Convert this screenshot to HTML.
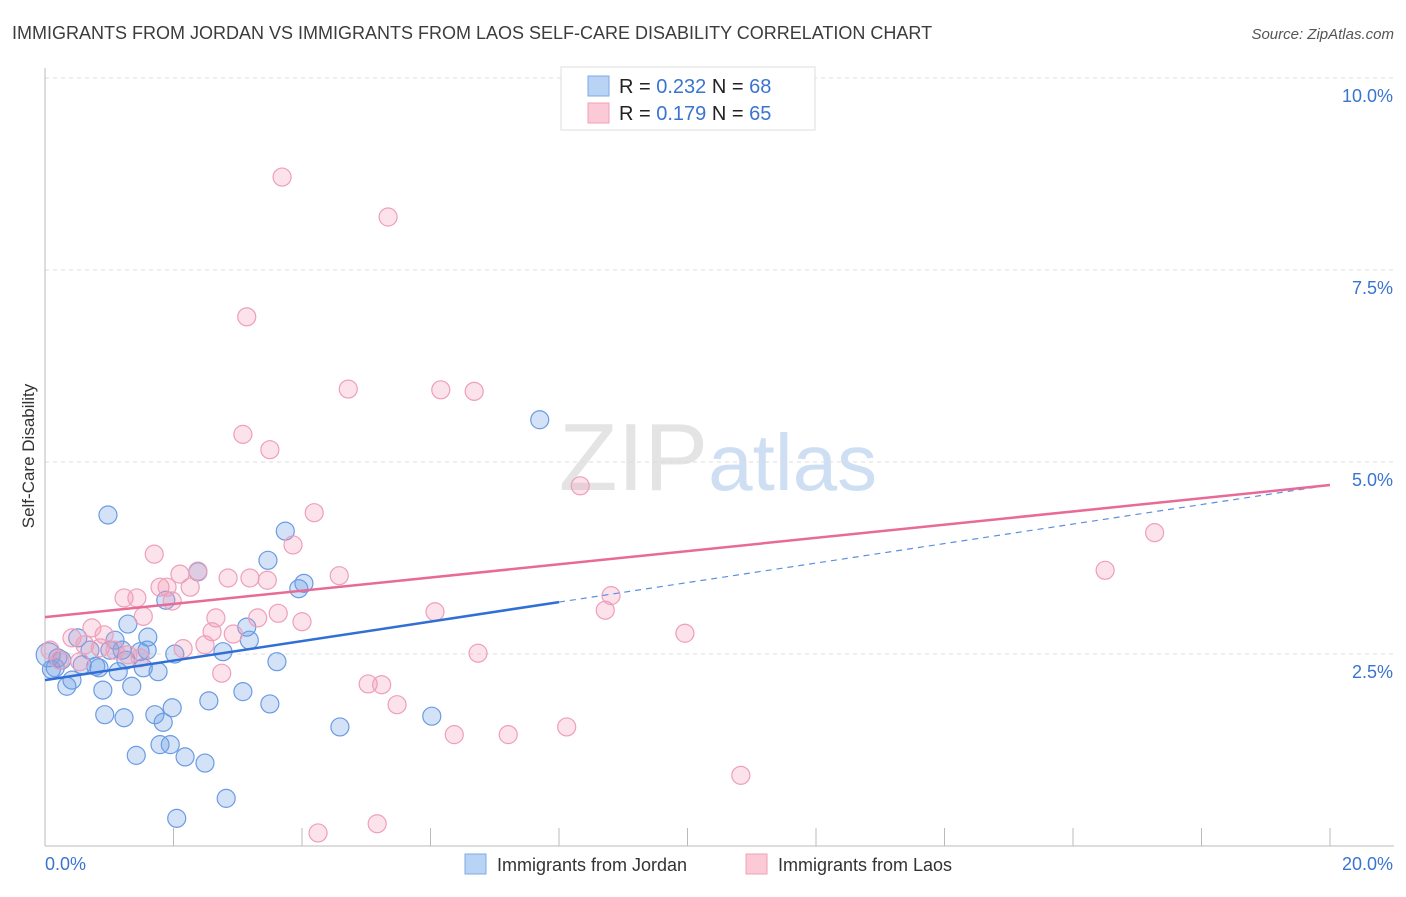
<!DOCTYPE html>
<html><head><meta charset="utf-8"><style>
body{margin:0;background:#fff;font-family:"Liberation Sans",sans-serif;}
svg text{font-family:"Liberation Sans",sans-serif;}
</style></head><body>
<svg id="chart" width="1406" height="892" xmlns="http://www.w3.org/2000/svg">
<text x="12" y="39" font-size="18" fill="#3c3c3c">IMMIGRANTS FROM JORDAN VS IMMIGRANTS FROM LAOS SELF-CARE DISABILITY CORRELATION CHART</text>
<text x="1394" y="39" font-size="15" fill="#555" text-anchor="end" font-style="italic">Source: ZipAtlas.com</text>
<text transform="translate(34,456) rotate(-90)" font-size="17" fill="#333" text-anchor="middle">Self-Care Disability</text>
<text x="718" y="490" font-size="96" text-anchor="middle" fill="#e4e4e4" font-family="Liberation Serif"><tspan>ZIP</tspan><tspan fill="#cfdff3" font-family="Liberation Sans" font-size="80">atlas</tspan></text>
<g id="grid"></g><g id="axes"></g><g id="pts"></g><g id="lines"></g>
<g>
<rect x="561" y="67" width="254" height="63" fill="#fff" stroke="#ddd"/>
<rect x="588" y="76" width="21" height="20" fill="#b9d3f5" stroke="#7fa8e6"/>
<rect x="588" y="103" width="21" height="20" fill="#fcc9d7" stroke="#f0a0b8"/>
<text x="619" y="93" font-size="20" fill="#222">R = <tspan fill="#3a74d0">0.232</tspan>   N = <tspan fill="#3a74d0">68</tspan></text>
<text x="619" y="120" font-size="20" fill="#222">R =  <tspan fill="#3a74d0">0.179</tspan>   N = <tspan fill="#3a74d0">65</tspan></text>
</g>
<g>
<rect x="465" y="854" width="21" height="20" fill="#b9d3f5" stroke="#7fa8e6"/>
<text x="497" y="871" font-size="18" fill="#333">Immigrants from Jordan</text>
<rect x="746" y="854" width="21" height="20" fill="#fcc9d7" stroke="#f0a0b8"/>
<text x="778" y="871" font-size="18" fill="#333">Immigrants from Laos</text>
</g>
</svg>
<script>
const blueX=[0.98,0.05,0.16,0.26,0.34,0.42,0.51,0.58,0.70,0.79,0.84,0.90,0.93,1.01,1.09,1.14,1.20,1.23,1.26,1.29,1.35,1.42,1.48,1.53,1.59,1.60,1.71,1.76,1.79,1.84,1.88,1.95,1.98,2.02,2.18,2.38,2.49,2.55,2.77,2.82,3.08,3.14,3.18,3.47,3.50,3.61,3.74,3.95,4.03,4.59,6.02,7.70,2.05,0.10,0.20];
const blueY=[4.31,2.49,2.32,2.42,2.08,2.16,2.71,2.36,2.55,2.34,2.32,2.03,1.71,2.55,2.68,2.27,2.55,1.67,2.42,2.89,2.08,1.18,2.53,2.32,2.55,2.72,1.71,2.27,1.32,1.61,3.20,1.32,1.80,2.50,1.16,3.57,1.08,1.89,2.53,0.62,2.01,2.85,2.68,3.72,1.85,2.40,4.10,3.35,3.42,1.55,1.69,5.55,0.36,2.30,2.45];
const pinkX=[11.59,3.69,5.34,3.14,4.72,6.16,6.68,3.08,3.50,8.33,4.19,17.27,16.50,1.70,3.86,2.38,2.10,1.79,1.90,2.26,2.85,3.19,3.46,4.58,1.23,1.43,1.98,1.53,2.66,3.31,3.63,4.00,6.07,8.72,8.81,2.60,2.93,0.92,0.73,0.42,0.62,0.86,1.09,1.29,1.48,2.15,2.49,9.96,6.74,2.75,5.03,5.24,5.48,6.37,7.21,8.12,10.83,4.25,5.17,0.23,0.54,0.08];
const pinkY=[9.52,8.71,8.19,6.89,5.95,5.94,5.92,5.36,5.16,4.69,4.34,4.08,3.59,3.80,3.92,3.58,3.54,3.37,3.37,3.37,3.49,3.49,3.46,3.52,3.23,3.23,3.19,2.99,2.97,2.97,3.03,2.92,3.05,3.07,3.26,2.79,2.76,2.75,2.84,2.71,2.62,2.58,2.55,2.49,2.45,2.57,2.62,2.77,2.51,2.25,2.11,2.10,1.84,1.45,1.45,1.55,0.92,0.17,0.29,2.42,2.40,2.55];
const blueLine=[2.16,4.70];
const pinkLine=[2.98,4.70];
const yTicks=[2.5,5.0,7.5,10.0];
const xTickVals=[2,4,6,8,10,12,14,16,18,20];
const NS="http://www.w3.org/2000/svg";
const sx=v=>45+v/20*1285;
const sy=v=>846-v/10*768;
function mk(tag,attrs,parent){const e=document.createElementNS(NS,tag);for(const k in attrs)e.setAttribute(k,attrs[k]);parent.appendChild(e);return e;}
const grid=document.getElementById('grid'),axes=document.getElementById('axes'),pts=document.getElementById('pts'),lines=document.getElementById('lines');
yTicks.forEach(t=>{
 const l=mk('line',{x1:45,x2:1394,y1:sy(t),y2:sy(t),stroke:'#ddd','stroke-dasharray':'4,4'},grid);
 
 
 const tx=mk('text',{x:1393,y:sy(t)+24,'font-size':18,fill:'#3a74d0','text-anchor':'end'},grid);
 tx.textContent=t.toFixed(1)+'%';
 
 
});
const ya=mk('line',{x1:45,x2:45,y1:68,y2:846,stroke:'#bbb'},axes);


const xa=mk('line',{x1:45,x2:1394,y1:846,y2:846,stroke:'#bbb'},axes);


xTickVals.forEach(t=>{
 const l=mk('line',{x1:sx(t),x2:sx(t),y1:828,y2:846,stroke:'#bbb'},axes);
 
 
});
const xl0=mk('text',{x:45,y:870,'font-size':18,fill:'#3a74d0'},axes);xl0.textContent='0.0%';


const xl1=mk('text',{x:1393,y:870,'font-size':18,fill:'#3a74d0','text-anchor':'end'},axes);xl1.textContent='20.0%';


blueX.forEach((x,i)=>{
 const c=mk('circle',{cx:sx(x),cy:sy(blueY[i]),r:i==1?12:9,fill:'rgba(110,160,230,0.3)',stroke:'#6b9be3','stroke-width':1.2},pts);
 
 
});
pinkX.forEach((x,i)=>{
 const c=mk('circle',{cx:sx(x),cy:sy(pinkY[i]),r:9,fill:'rgba(245,150,180,0.28)',stroke:'#ee9fb9','stroke-width':1.2},pts);
 
 
});
const bAt=x=>blueLine[0]+(blueLine[1]-blueLine[0])*x/20;
const bl=mk('line',{x1:sx(0),y1:sy(bAt(0)),x2:sx(8),y2:sy(bAt(8)),stroke:'#2f6fd6','stroke-width':2.5},lines);


const bd=mk('line',{x1:sx(8),y1:sy(bAt(8)),x2:sx(20),y2:sy(bAt(20)),stroke:'#5b8fe0','stroke-width':1.2,'stroke-dasharray':'6,5'},lines);


const pl=mk('line',{x1:sx(0),y1:sy(pinkLine[0]),x2:sx(20),y2:sy(pinkLine[1]),stroke:'#e86a96','stroke-width':2.5},lines);


</script>
</body></html>
